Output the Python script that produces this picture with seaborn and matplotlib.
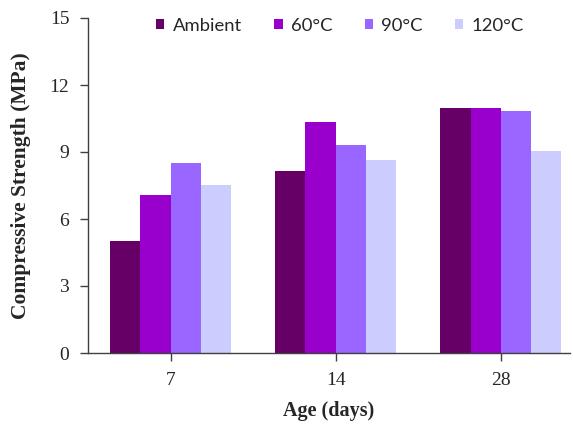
import numpy as np
import pandas as pd
import matplotlib.pyplot as plt
import seaborn as sns

# data
ages = ["7", "14", "28"]
curing = ["Ambient", "60°C", "90°C", "120°C"]
ambient = [5.02, 8.15, 10.97]
c60 = [7.08, 10.34, 10.98]
c90 = [8.50, 9.31, 10.84]
c120 = [7.52, 8.65, 9.05]

colors = ["#660066", "#9900CC", "#9966FF", "#CCCCFF"]

ds = pd.DataFrame({
    "age": ages * 4,
    "curing": [c for c in curing for _ in ages],
    "strength": ambient + c60 + c90 + c120,
})

sns.set_style("white")
plt.rcParams["font.family"] = ["Liberation Serif", "DejaVu Serif"]

fig = plt.figure(figsize=(5.73, 4.26), dpi=100)
ax = fig.add_axes([88 / 573, 1 - 353 / 426, (570 - 88) / 573, (353 - 18) / 426])

sns.barplot(data=ds, x="age", y="strength", hue="curing", order=ages,
            hue_order=curing, palette=colors, width=0.73, gap=0,
            saturation=1, linewidth=0, ax=ax)

ax.set_xlim(-0.5, 2.42)
ax.set_ylim(0, 15)
ax.set_yticks([0, 3, 6, 9, 12, 15])
ax.set_xlabel("Age (days)", fontsize=14.5, fontweight="bold", labelpad=9)
ax.set_ylabel("Compressive Strength (MPa)", fontsize=15.5, fontweight="bold", labelpad=13)
ax.tick_params(axis="both", labelsize=14, direction="out", length=5.5,
               width=1, color="#404040", left=True, bottom=True)
ax.tick_params(axis="y", pad=8)
ax.tick_params(axis="x", pad=8)

for s in ["top", "right"]:
    ax.spines[s].set_visible(False)
for s in ["left", "bottom"]:
    ax.spines[s].set_color("#404040")
    ax.spines[s].set_linewidth(1)

ax.legend(loc="center", bbox_to_anchor=(0.523, 0.977), ncol=4, frameon=False,
          handlelength=0.45, handleheight=0.45, handletextpad=0.45,
          columnspacing=1.75, borderaxespad=0, borderpad=0,
          prop={"family": "Lato", "size": 13.3})

fig.savefig("out.png", dpi=100)
